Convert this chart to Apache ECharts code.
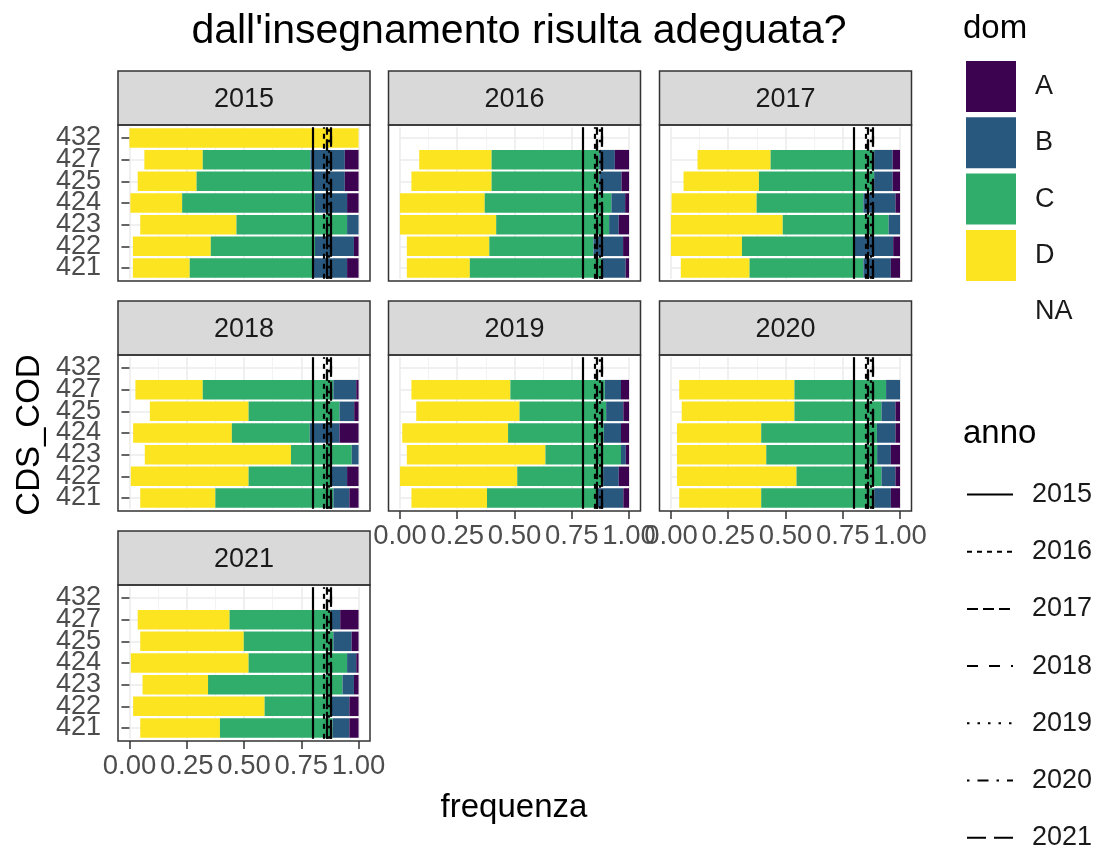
<!DOCTYPE html>
<html lang="it">
<head>
  <meta charset="UTF-8">
  <title>frequenza per CDS_COD</title>
  <style>
    body { margin: 0; background-color: #fff; }
  </style>
  <script src="https://cdn.jsdelivr.net/npm/echarts@6/dist/echarts.min.js"></script>
</head>
<body>
<div id="chart" style="width: 1100px; height: 845px;"></div>
<script>
  // dati
  const cds = ['421', '422', '423', '424', '425', '427', '432']
  const years = ['2015', '2016', '2017', '2018', '2019', '2020', '2021']
  const domLevels = ['A', 'B', 'C', 'D', 'NA']

  // quote per anno (righe) e CDS (colonne, stesso ordine di cds)
  const shareNA = [
    [0.015, 0.015, 0.047, 0.004, 0.036, 0.065, 0],
    [0.03, 0.03, 0, 0, 0.05, 0.084, '-'],
    [0.043, 0, 0, 0.003, 0.055, 0.116, '-'],
    [0.047, 0.006, 0.067, 0.016, 0.089, 0.026, '-'],
    [0.05, 0, 0.03, 0.01, 0.071, 0.05, '-'],
    [0.036, 0.026, 0.026, 0.026, 0.047, 0.036, '-'],
    [0.047, 0.016, 0.057, 0.006, 0.047, 0.036, '-']
  ]
  const shareD = [
    [0.248, 0.34, 0.42, 0.226, 0.257, 0.255, 1],
    [0.275, 0.36, 0.42, 0.37, 0.35, 0.316, '-'],
    [0.30, 0.31, 0.488, 0.371, 0.329, 0.319, '-'],
    [0.328, 0.514, 0.638, 0.431, 0.431, 0.294, '-'],
    [0.33, 0.512, 0.605, 0.462, 0.451, 0.432, '-'],
    [0.358, 0.522, 0.39, 0.368, 0.492, 0.503, '-'],
    [0.348, 0.574, 0.286, 0.514, 0.452, 0.401, '-']
  ]
  const shareC = [
    [0.537, 0.455, 0.483, 0.58, 0.504, 0.47, 0],
    [0.575, 0.455, 0.493, 0.553, 0.47, 0.47, '-'],
    [0.497, 0.49, 0.462, 0.466, 0.503, 0.452, '-'],
    [0.515, 0.357, 0.265, 0.34, 0.397, 0.57, '-'],
    [0.48, 0.375, 0.33, 0.418, 0.378, 0.412, '-'],
    [0.493, 0.371, 0.484, 0.505, 0.38, 0.40, '-'],
    [0.492, 0.294, 0.587, 0.43, 0.391, 0.44, '-']
  ]
  const shareB = [
    [0.15, 0.17, 0.05, 0.14, 0.143, 0.15, 0],
    [0.105, 0.129, 0.042, 0.06, 0.097, 0.068, '-'],
    [0.12, 0.17, 0.05, 0.14, 0.081, 0.081, '-'],
    [0.07, 0.073, 0.03, 0.13, 0.064, 0.10, '-'],
    [0.115, 0.068, 0.021, 0.075, 0.075, 0.071, '-'],
    [0.073, 0.061, 0.06, 0.081, 0.061, 0.061, '-'],
    [0.073, 0.076, 0.05, 0.04, 0.08, 0.043, '-']
  ]
  const shareA = [
    [0.05, 0.02, 0, 0.05, 0.06, 0.06, 0],
    [0.015, 0.026, 0.045, 0.017, 0.033, 0.062, '-'],
    [0.04, 0.03, 0, 0.02, 0.032, 0.032, '-'],
    [0.04, 0.05, 0, 0.083, 0.019, 0.01, '-'],
    [0.025, 0.045, 0.014, 0.035, 0.025, 0.035, '-'],
    [0.04, 0.02, 0.04, 0.02, 0.02, 0, '-'],
    [0.04, 0.04, 0.02, 0.01, 0.03, 0.08, '-']
  ]
  // medie per anno (linee verticali)
  const annoMean = [0.800, 0.853, 0.862, 0.875, 0.868, 0.858, 0.880]

  // stili
  const domColors = { A: '#3c0350', B: '#29587f', C: '#30ad6b', D: '#fce420', NA: 'transparent' }
  const lineTypes = ['solid', [5, 5], [11, 5], [11, 11], [2.5, 8], [2.5, 8, 11, 8], [19, 8]]
  const font = 'Liberation Sans, Arial, Helvetica, sans-serif'

  // layout pannelli
  const colLeft = [118, 388.5, 659.5]
  const rowTop = [125, 355, 585]
  const panelW = 252, panelH = 156, stripH = 54
  const padX = panelW * 0.05 / 1.1
  const padY = panelH * 0.1 / 7.2

  const grids = [], xAxes = [], yAxes = [], series = [], graphics = []
  const byDom = { NA: shareNA, D: shareD, C: shareC, B: shareB, A: shareA }

  years.forEach((yr, g) => {
    const col = g % 3, row = Math.floor(g / 3)
    const pl = colLeft[col], pt = rowTop[row]
    const bottomPanel = g >= 4
    grids.push({ left: pl + padX, top: pt + padY, width: panelW - 2 * padX, height: panelH - 2 * padY })
    xAxes.push({
      type: 'value', gridIndex: g, min: 0, max: 1, interval: 0.25, offset: padY,
      axisLine: { show: false },
      axisTick: { show: bottomPanel, length: 8, lineStyle: { color: '#333', width: 1.5 } },
      minorTick: { show: false, splitNumber: 2 },
      axisLabel: { show: bottomPanel, fontSize: 27.5, color: '#4d4d4d', fontFamily: font, margin: 11,
        formatter: v => v.toFixed(2) },
      splitLine: { show: true, lineStyle: { color: '#ebebeb', width: 1.5 } },
      minorSplitLine: { show: true, lineStyle: { color: '#f0f0f0', width: 0.8 } }
    })
    yAxes.push({
      type: 'category', gridIndex: g, data: cds, offset: padX,
      axisLine: { show: false },
      axisTick: { show: col === 0, alignWithLabel: true, length: 8, lineStyle: { color: '#333', width: 1.5 } },
      axisLabel: { show: col === 0, interval: 0, fontSize: 27, color: '#4d4d4d', fontFamily: font, margin: 17 },
      splitLine: { show: true, alignWithLabel: true, lineStyle: { color: '#ebebeb', width: 1.5 } }
    })

    // barre impilate: NA a sinistra, poi D, C, B, A
    ;['NA', 'D', 'C', 'B', 'A'].forEach(d => {
      series.push({
        type: 'bar', name: d, xAxisIndex: g, yAxisIndex: g, stack: 's' + g,
        barCategoryGap: '10%',
        itemStyle: { color: domColors[d] },
        data: byDom[d][g]
      })
    })

    // linee verticali delle medie annuali
    years.forEach((a, k) => {
      series.push({
        type: 'line', name: a, xAxisIndex: g, yAxisIndex: g, data: [], symbol: 'none', z: 5,
        itemStyle: { color: '#000' },
        lineStyle: { color: '#000', width: 2.2, type: lineTypes[k] },
        markLine: {
          silent: true, symbol: ['none', 'none'], label: { show: false },
          lineStyle: { color: '#000', width: 2.2, type: lineTypes[k] },
          data: [{ xAxis: annoMean[k] }]
        }
      })
    })

    // strip e bordo del pannello
    graphics.push({
      type: 'rect', silent: true, z: 50,
      shape: { x: pl, y: pt - stripH, width: panelW, height: stripH },
      style: { fill: '#d9d9d9', stroke: '#333', lineWidth: 1.5 }
    })
    graphics.push({
      type: 'text', silent: true, z: 51,
      style: { text: yr, x: pl + panelW / 2, y: pt - stripH / 2 + 2, align: 'center', verticalAlign: 'middle',
        textAlign: 'center', textVerticalAlign: 'middle', fontSize: 27, fontFamily: font, fill: '#1a1a1a' }
    })
    graphics.push({
      type: 'rect', silent: true, z: 100,
      shape: { x: pl, y: pt, width: panelW, height: panelH },
      style: { fill: 'none', stroke: '#333', lineWidth: 1.5 }
    })
  })

  // titoli assi e legende
  graphics.push({
    type: 'text', silent: true, rotation: Math.PI / 2, x: 30, y: 435,
    style: { text: 'CDS_COD', align: 'center', verticalAlign: 'middle', textAlign: 'center', textVerticalAlign: 'middle',
      fontSize: 33, fontFamily: font, fill: '#000' }
  })
  graphics.push({
    type: 'text', silent: true,
    style: { text: 'frequenza', x: 514, y: 808, align: 'center', verticalAlign: 'middle', textAlign: 'center', textVerticalAlign: 'middle',
      fontSize: 33, fontFamily: font, fill: '#000' }
  })
  graphics.push({
    type: 'text', silent: true,
    style: { text: 'dom', x: 963, y: 29, verticalAlign: 'middle', textVerticalAlign: 'middle',
      fontSize: 33, fontFamily: font, fill: '#000' }
  })
  graphics.push({
    type: 'text', silent: true,
    style: { text: 'anno', x: 963, y: 434, verticalAlign: 'middle', textVerticalAlign: 'middle',
      fontSize: 33, fontFamily: font, fill: '#000' }
  })

  const chart = echarts.init(document.getElementById('chart'))
  chart.setOption({
    animation: false,
    textStyle: { fontFamily: font },
    title: {
      text: "dall'insegnamento risulta adeguata?",
      left: 514, top: 6, textAlign: 'center',
      textStyle: { fontSize: 41, fontWeight: 'normal', color: '#000', fontFamily: font }
    },
    legend: [
      {
        data: domLevels, left: 966, top: 61, orient: 'vertical', icon: 'rect', padding: 0,
        itemWidth: 50, itemHeight: 51, itemGap: 5.3, selectedMode: false,
        textStyle: { fontSize: 27, color: '#1a1a1a', fontFamily: font, padding: [0, 0, 0, 14] }
      },
      {
        data: years, left: 966, top: 481, height: 400, orient: 'vertical', padding: 0,
        itemWidth: 46, itemHeight: 18, itemGap: 30.2, selectedMode: false,
        itemStyle: { opacity: 0 },
        textStyle: { fontSize: 27, color: '#1a1a1a', fontFamily: font, padding: [0, 0, 0, 14] }
      }
    ],
    grid: grids,
    xAxis: xAxes,
    yAxis: yAxes,
    series: series,
    graphic: graphics
  })
</script>
</body>
</html>
